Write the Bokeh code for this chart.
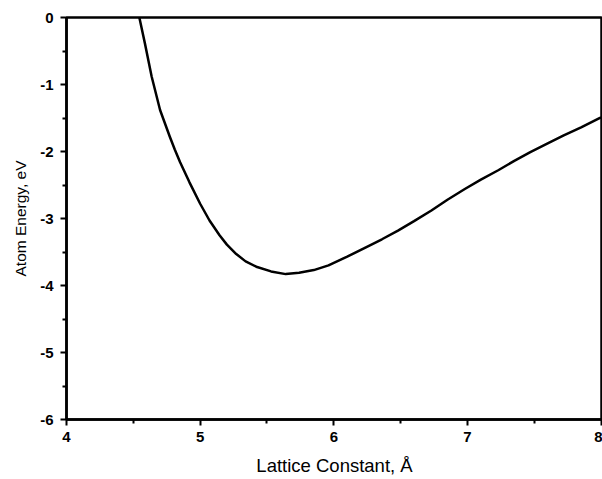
from bokeh.plotting import figure
from bokeh.models import Range1d, FixedTicker, PrintfTickFormatter
from bokeh.embed import file_html
from bokeh.resources import INLINE

lattice = [4.545, 4.587, 4.637, 4.70, 4.773, 4.81, 4.85, 4.92, 5.0, 5.07, 5.145, 5.20,
           5.27, 5.34, 5.42, 5.53, 5.64, 5.74, 5.85, 5.96, 6.10, 6.24, 6.36, 6.48, 6.60,
           6.73, 6.85, 6.98, 7.10, 7.23, 7.35, 7.47, 7.60, 7.72, 7.85, 7.98, 8.0]
energy = [0.0, -0.39, -0.88, -1.38, -1.78, -1.97, -2.16, -2.46, -2.78, -3.03, -3.25, -3.39,
          -3.53, -3.64, -3.72, -3.79, -3.83, -3.81, -3.77, -3.70, -3.57, -3.43, -3.31, -3.18, -3.04,
          -2.88, -2.72, -2.56, -2.42, -2.28, -2.14, -2.01, -1.88, -1.76, -1.64, -1.51, -1.49]

x_major = [4, 5, 6, 7, 8]
x_minor = [4.5, 5.5, 6.5, 7.5]
y_major = [0, -1, -2, -3, -4, -5, -6]
y_minor = [-0.5, -1.5, -2.5, -3.5, -4.5, -5.5]

p = figure(width=602, height=479, output_backend="svg", toolbar_location=None,
           x_range=Range1d(4, 8.01), y_range=Range1d(-6, 0),
           min_border_left=66, min_border_right=0, min_border_top=17, min_border_bottom=60)
p.xgrid.visible = False
p.ygrid.visible = False
p.outline_line_color = "black"
p.outline_line_width = 2.5

p.line(lattice, energy, line_color="black", line_width=2.5, line_join="round")

for ax in (p.xaxis[0], p.yaxis[0]):
    ax.axis_line_width = 2.5
    ax.axis_line_color = "black"
    ax.major_tick_line_width = 2
    ax.minor_tick_line_width = 2
    ax.major_tick_out = 6
    ax.major_tick_in = 0
    ax.minor_tick_out = 4
    ax.minor_tick_in = 0
    ax.major_label_text_font = "Liberation Sans"
    ax.major_label_text_font_size = "15px"
    ax.major_label_text_font_style = "bold"
    ax.major_label_text_color = "black"
    ax.axis_label_text_font = "Liberation Sans"
    ax.axis_label_text_font_style = "normal"
    ax.axis_label_text_color = "black"
    ax.formatter = PrintfTickFormatter(format="%d")

p.xaxis[0].axis_label_text_font_size = "18.5px"
p.yaxis[0].axis_label_text_font_size = "15.5px"
p.xaxis[0].ticker = FixedTicker(ticks=x_major, minor_ticks=x_minor)
p.yaxis[0].ticker = FixedTicker(ticks=y_major, minor_ticks=y_minor)
p.xaxis[0].axis_label = "Lattice Constant, Å"
p.yaxis[0].axis_label = "Atom Energy, eV"
p.xaxis[0].major_label_standoff = 6
p.yaxis[0].major_label_standoff = 7
p.xaxis[0].axis_label_standoff = 10
p.yaxis[0].axis_label_standoff = 8

open("out.html", "w").write(file_html(p, INLINE))
